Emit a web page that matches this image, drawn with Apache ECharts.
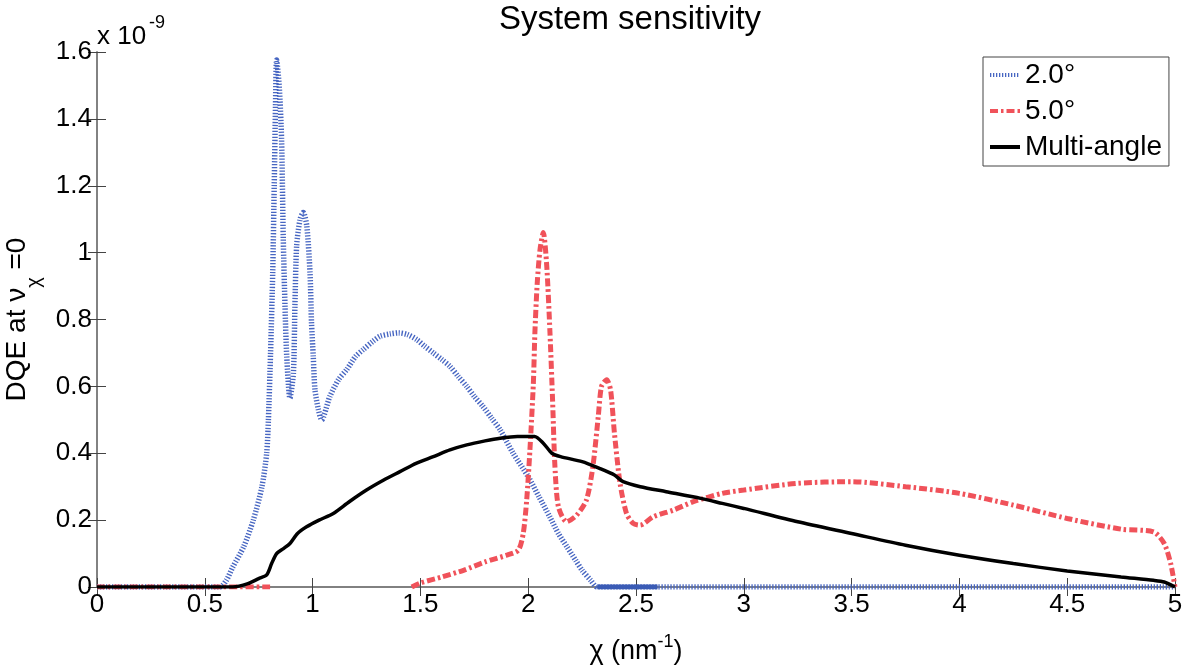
<!DOCTYPE html>
<html><head><meta charset="utf-8">
<script src="https://cdn.jsdelivr.net/npm/echarts@6/dist/echarts.min.js"></script>
<style>html,body{margin:0;padding:0;background:#fff}#c{width:1184px;height:665px}</style>
</head><body><div id="c"></div>
<script>
// values in units of 1e-9
const seriesNames = ['2.0°', '5.0°', 'Multi-angle'];

const blueX = [0, 0.57, 0.6, 0.63, 0.68, 0.725, 0.765, 0.787, 0.795, 0.805, 0.815, 0.822, 0.828, 0.833, 0.845, 0.856, 0.864, 0.872, 0.88, 0.895, 0.911, 0.918, 0.926, 0.942, 0.957, 0.973, 0.988, 0.995, 1.003, 1.011, 1.027, 1.042, 1.08, 1.12, 1.158, 1.2, 1.235, 1.28, 1.313, 1.36, 1.40, 1.44, 1.483, 1.52, 1.56, 1.60, 1.637, 1.675, 1.715, 1.75, 1.79, 1.83, 1.87, 1.93, 2.0, 2.05, 2.1, 2.14, 2.18, 2.22, 2.25, 2.29, 2.32, 5.0];
const blueY = [0, 0, 0.02, 0.06, 0.12, 0.2, 0.3, 0.4, 0.5, 0.7, 0.94, 1.2, 1.44, 1.576, 1.5, 1.34, 1.04, 0.84, 0.69, 0.565, 0.64, 0.84, 1.02, 1.10, 1.12, 1.08, 0.94, 0.79, 0.69, 0.59, 0.53, 0.50, 0.57, 0.62, 0.65, 0.69, 0.71, 0.735, 0.75, 0.757, 0.76, 0.755, 0.74, 0.72, 0.70, 0.68, 0.66, 0.63, 0.60, 0.57, 0.54, 0.505, 0.47, 0.40, 0.33, 0.27, 0.21, 0.16, 0.12, 0.08, 0.05, 0.02, 0, 0];
const blueFlatX = [2.32, 2.6];
const blueFlatY = [0, 0];

const redX = [0, 0.81, 1.1, 1.46, 1.5, 1.6, 1.7, 1.8, 1.9, 1.954, 1.977, 1.993, 2.008, 2.024, 2.031, 2.042, 2.055, 2.07, 2.086, 2.101, 2.113, 2.124, 2.14, 2.178, 2.225, 2.27, 2.30, 2.325, 2.34, 2.364, 2.382, 2.40, 2.426, 2.456, 2.487, 2.519, 2.58, 2.673, 2.766, 2.9, 3.0, 3.25, 3.5, 3.75, 4.0, 4.25, 4.5, 4.75, 4.9, 4.95, 4.98, 5.0];
const redY = [0, 0, null, 0, 0.012, 0.03, 0.05, 0.075, 0.095, 0.11, 0.16, 0.26, 0.41, 0.61, 0.76, 0.91, 1.01, 1.06, 0.96, 0.76, 0.56, 0.36, 0.24, 0.195, 0.215, 0.26, 0.36, 0.51, 0.60, 0.62, 0.59, 0.46, 0.31, 0.22, 0.19, 0.185, 0.21, 0.23, 0.255, 0.28, 0.29, 0.31, 0.315, 0.30, 0.28, 0.245, 0.205, 0.173, 0.165, 0.13, 0.07, 0];

const blackX = [0, 0.63, 0.7, 0.75, 0.787, 0.81, 0.833, 0.865, 0.895, 0.93, 0.972, 1.03, 1.096, 1.17, 1.25, 1.33, 1.405, 1.48, 1.56, 1.637, 1.715, 1.8, 1.87, 1.95, 2.03, 2.07, 2.11, 2.15, 2.25, 2.33, 2.40, 2.44, 2.52, 2.64, 2.8, 2.9, 3.0, 3.25, 3.5, 3.75, 4.0, 4.25, 4.5, 4.75, 4.9, 4.95, 5.0];
const blackY = [0, 0, 0.01, 0.025, 0.036, 0.07, 0.10, 0.115, 0.13, 0.16, 0.18, 0.20, 0.22, 0.255, 0.29, 0.32, 0.345, 0.37, 0.39, 0.41, 0.425, 0.437, 0.445, 0.45, 0.45, 0.43, 0.40, 0.39, 0.375, 0.355, 0.335, 0.315, 0.30, 0.285, 0.265, 0.25, 0.235, 0.195, 0.16, 0.125, 0.095, 0.07, 0.048, 0.03, 0.02, 0.015, 0];

const xMin = 0, xMax = 5, xStep = 0.5;
const yMin = 0, yMax = 1.6, yStep = 0.2;

function pairs(xs, ys) { return xs.map((x, i) => [x, ys[i]]); }

const FONT = 'Liberation Sans, Arial, sans-serif';
const axisColor = '#7a7a7a';
const chart = echarts.init(document.getElementById('c'), null, { renderer: 'canvas' });

const hiddenAxis = {
  axisLine: { show: true, lineStyle: { color: axisColor, width: 1.5 } },
  axisTick: { show: true, inside: true, length: 9, lineStyle: { color: '#444', width: 1 } },
  axisLabel: { show: false },
  splitLine: { show: false }
};

chart.setOption({
  animation: false,
  backgroundColor: '#fff',
  title: {
    text: 'System sensitivity',
    left: 630, top: 3, textAlign: 'center', padding: 0,
    textStyle: { fontFamily: FONT, fontSize: 33, fontWeight: 'normal', color: '#000' }
  },
  grid: { left: 97, right: 9, top: 52, bottom: 78, containLabel: false, outerBoundsMode: 'none' },
  legend: {
    data: seriesNames,
    orient: 'vertical', left: 983, top: 57,
    padding: [3, 7, 4, 5],
    itemWidth: 30, itemHeight: 14, itemGap: 6, itemTextGap: 11,
    borderColor: '#444', borderWidth: 1, backgroundColor: '#fff',
    itemStyle: { opacity: 0 },
    lineStyle: { width: 4 },
    textStyle: { fontFamily: FONT, fontSize: 28, color: '#000', lineHeight: 30 }
  },
  graphic: [
    { type: 'text', left: 97, top: 24, style: { text: 'x 10', font: '26px ' + FONT, fill: '#000' } },
    { type: 'text', left: 149, top: 14, style: { text: '-9', font: '18px ' + FONT, fill: '#000' } }
  ],
  xAxis: [{
    type: 'value', min: xMin, max: xMax, interval: xStep,
    name: '{a|χ (nm}{s|-1}{a|)}', nameLocation: 'middle', nameGap: 46,
    nameTextStyle: { rich: {
      a: { fontFamily: FONT, fontSize: 27, color: '#000', verticalAlign: 'bottom', lineHeight: 32 },
      s: { fontFamily: FONT, fontSize: 18, color: '#000', verticalAlign: 'top', lineHeight: 32 }
    } },
    axisLine: { show: true, onZero: false, lineStyle: { color: axisColor, width: 1.5 } },
    axisTick: { show: true, inside: true, length: 9, lineStyle: { color: '#444', width: 1 } },
    axisLabel: { fontFamily: FONT, fontSize: 26, color: '#000', margin: 5 },
    splitLine: { show: false }
  }, Object.assign({ type: 'value', min: xMin, max: xMax, interval: xStep, position: 'top' }, hiddenAxis)],
  yAxis: [{
    type: 'value', min: yMin, max: yMax, interval: yStep,
    name: '{a|DQE at ν}{s|χ}{a| =0}', nameLocation: 'middle', nameGap: 36, nameRotate: 90,
    nameTextStyle: { rich: {
      a: { fontFamily: FONT, fontSize: 28, color: '#000', verticalAlign: 'top', lineHeight: 42 },
      s: { fontFamily: FONT, fontSize: 20, color: '#000', verticalAlign: 'bottom', lineHeight: 42 }
    } },
    axisLine: { show: true, onZero: false, lineStyle: { color: axisColor, width: 1.5 } },
    axisTick: { show: true, inside: true, length: 9, lineStyle: { color: '#444', width: 1 } },
    axisLabel: { fontFamily: FONT, fontSize: 26, color: '#000', margin: 5 },
    splitLine: { show: false }
  }, Object.assign({ type: 'value', min: yMin, max: yMax, interval: yStep, position: 'right' }, hiddenAxis)],
  series: [
    {
      name: seriesNames[0], type: 'line', data: pairs(blueX, blueY),
      symbol: 'none', smooth: 0.25, z: 3,
      lineStyle: { color: '#4766c2', width: 5.5, type: [1.3, 1.7], cap: 'butt' },
      itemStyle: { color: '#4766c2' }
    },
    {
      name: seriesNames[0], type: 'line', data: pairs(blueFlatX, blueFlatY),
      symbol: 'none', z: 3,
      lineStyle: { color: '#3a5bb5', width: 5, type: 'solid' },
      itemStyle: { color: '#3a5bb5' }
    },
    {
      name: seriesNames[1], type: 'line', data: pairs(redX, redY),
      symbol: 'none', smooth: 0.25, connectNulls: false, z: 4,
      lineStyle: { color: '#f0525a', width: 5, type: [8, 3, 2.5, 3], cap: 'butt' },
      itemStyle: { color: '#f0525a' }
    },
    {
      name: seriesNames[2], type: 'line', data: pairs(blackX, blackY),
      symbol: 'none', smooth: 0.25, z: 5,
      lineStyle: { color: '#000', width: 3.5, type: 'solid' },
      itemStyle: { color: '#000' }
    }
  ]
});
</script></body></html>
